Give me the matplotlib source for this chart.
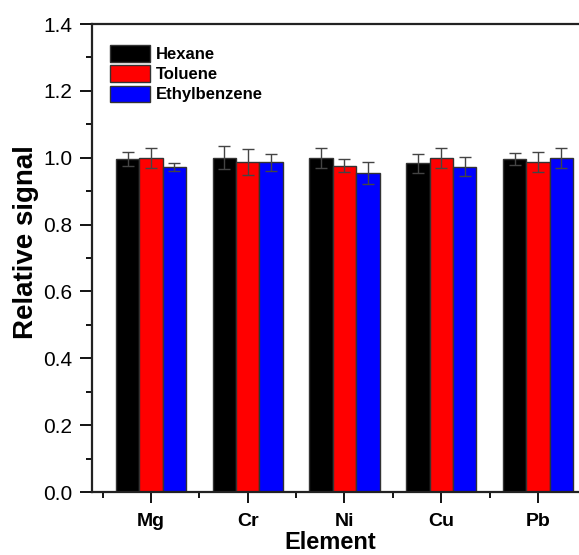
import matplotlib
matplotlib.use("Agg")
import matplotlib.pyplot as plt
import numpy as np
from matplotlib.ticker import MultipleLocator, FixedLocator

plt.rcParams['font.family'] = ['Liberation Sans', 'DejaVu Sans']

elements = ["Mg", "Cr", "Ni", "Cu", "Pb"]
series = ["Hexane", "Toluene", "Ethylbenzene"]
colors = ["#000000", "#ff0000", "#0000ff"]
hexane = [0.996, 1.000, 1.000, 0.983, 0.995]
hexane_err = [0.020, 0.035, 0.030, 0.028, 0.018]
toluene = [1.000, 0.987, 0.976, 0.999, 0.987]
toluene_err = [0.030, 0.040, 0.020, 0.030, 0.029]
ethylbenzene = [0.972, 0.986, 0.953, 0.973, 0.999]
ethylbenzene_err = [0.011, 0.025, 0.033, 0.029, 0.030]
yticks = [0.0, 0.2, 0.4, 0.6, 0.8, 1.0, 1.2, 1.4]

values = [hexane, toluene, ethylbenzene]
errors = [hexane_err, toluene_err, ethylbenzene_err]

W, H = 579, 555
fig = plt.figure(figsize=(W / 100, H / 100), dpi=100)
ax = fig.add_axes([92 / W, 1 - 492 / H, (597 - 92) / W, (492 - 24) / H])

x = np.arange(1, len(elements) + 1)
w = 0.242
for i, (vals, errs, c, lab) in enumerate(zip(values, errors, colors, series)):
    ax.bar(x + (i - 1) * w, vals, w, color=c, edgecolor="#333333", linewidth=1.0,
           label=lab, yerr=errs, capsize=4,
           error_kw=dict(ecolor="#444444", elinewidth=1.0, capthick=1.0))

ax.set_xlim(0.39, 5.61)
ax.set_ylim(0, 1.4)
ax.set_xticks(x)
ax.set_xticklabels(elements, fontsize=14, fontweight="bold")
ax.xaxis.set_minor_locator(FixedLocator(np.arange(0.5, 6.0, 1.0)))
ax.set_yticks(yticks)
ax.set_yticklabels([f"{v:.1f}" for v in yticks])
ax.yaxis.set_minor_locator(MultipleLocator(0.1))
ax.tick_params(axis="y", which="major", labelsize=15, length=9, width=1.3, direction="out", pad=5)
ax.tick_params(axis="y", which="minor", length=4, width=1.3, direction="out")
ax.tick_params(axis="x", which="major", length=8, width=1.3, direction="out", pad=7)
ax.tick_params(axis="x", which="minor", length=4.5, width=1.3, direction="out")
for s in ["left", "bottom", "top"]:
    ax.spines[s].set_linewidth(1.6)
    ax.spines[s].set_color("#222222")
ax.spines["right"].set_visible(False)

ax.set_ylabel("Relative signal", fontsize=20, fontweight="bold")
ax.yaxis.set_label_coords(-66 / 505, (492 - 242) / 468)
ax.yaxis.label.set_va("center")
ax.set_xlabel("Element", fontsize=17, fontweight="bold")
ax.xaxis.set_label_coords((330 - 92) / 505, -(549 - 492) / 468)
ax.xaxis.label.set_va("baseline")

leg = ax.legend(loc="upper left", bbox_to_anchor=(110 / W, 1 - 45 / H),
                bbox_transform=fig.transFigure, frameon=False,
                prop=dict(weight="bold", size=12), handlelength=2.4, handleheight=1.15,
                handletextpad=0.36, labelspacing=0.2, borderaxespad=0, borderpad=0)

fig.savefig("out.png", dpi=100)
